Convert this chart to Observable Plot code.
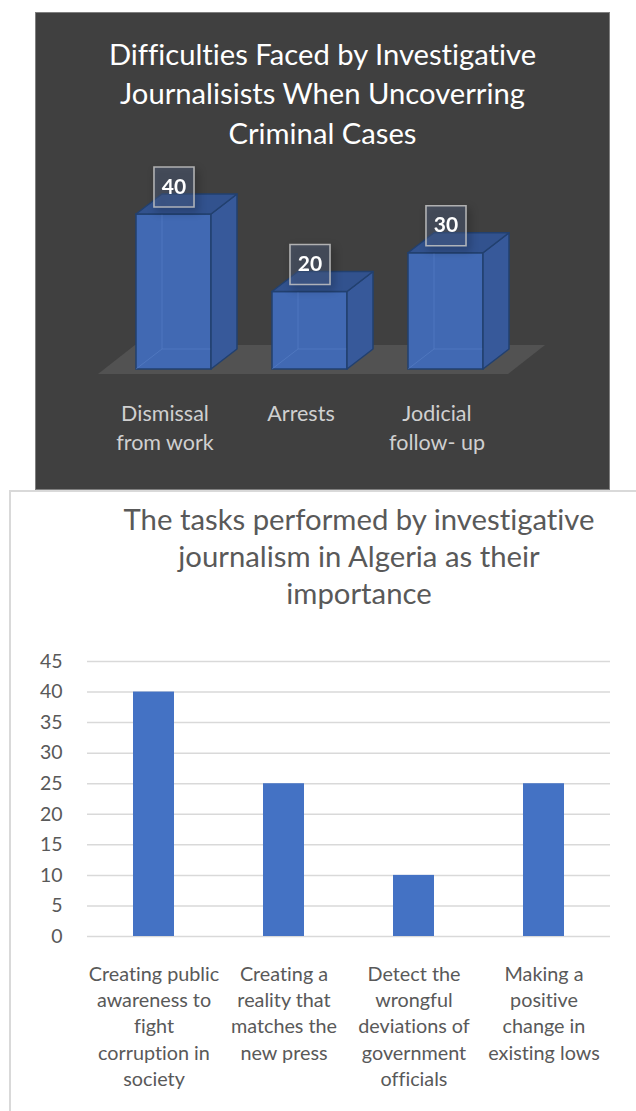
<!DOCTYPE html>
<html>
<head>
<meta charset="utf-8">
<script src="https://cdn.jsdelivr.net/npm/d3@7"></script>
<script src="https://cdn.jsdelivr.net/npm/@observablehq/plot@0.6"></script>
<style>
html,body{margin:0;padding:0;background:#fff;}
body{width:636px;height:1111px;position:relative;overflow:hidden;font-family:Lato,"Noto Sans",sans-serif;font-variant-ligatures:none;}
svg text{font-variant-ligatures:none;}
#panelTop{position:absolute;left:35px;top:12px;width:575px;height:478px;background:#404040;border:1px solid #7f7f7f;box-sizing:border-box;}
#panelBottom{position:absolute;left:9px;top:489.5px;width:720px;height:700px;background:#fff;border:2px solid #d9d9d9;box-sizing:border-box;}
.title{position:absolute;text-align:center;white-space:nowrap;}
#titleTop{left:35px;width:575px;top:33.5px;font-size:29.2px;line-height:39.5px;color:#fff;}
#titleBottom{left:9px;width:700px;top:499.5px;font-size:29.3px;line-height:37px;color:#595959;}
#chartTop{position:absolute;left:0;top:0;width:636px;}
#chartBottom{position:absolute;left:0;top:600px;width:636px;}
</style>
</head>
<body>
<div id="panelTop"></div>
<div id="panelBottom"></div>
<div id="titleTop" class="title"></div>
<div id="titleBottom" class="title"></div>
<div id="chartTop"></div>
<div id="chartBottom"></div>
<script>
// ---------- data ----------
const titleTopLines = ["Difficulties Faced by Investigative", "Journalisists When Uncoverring", "Criminal Cases"];
const difficulties = ["Dismissal\nfrom work", "Arrests", "Jodicial\nfollow- up"];
const difficultyValues = [40, 20, 30];

const titleBottomLines = ["The tasks performed by investigative", "journalism in Algeria as their", "importance"];
const tasks = [
  "Creating public\nawareness to\nfight\ncorruption in\nsociety",
  "Creating a\nreality that\nmatches the\nnew press",
  "Detect the\nwrongful\ndeviations of\ngovernment\nofficials",
  "Making a\npositive\nchange in\nexisting lows"
];
const taskValues = [40, 25, 10, 25];
const taskTicks = [0, 5, 10, 15, 20, 25, 30, 35, 40, 45];

// ---------- titles ----------
document.getElementById("titleTop").innerHTML = titleTopLines.join("<br>");
document.getElementById("titleBottom").innerHTML = titleBottomLines.join("<br>");

// ---------- top chart (3D columns) ----------
const topData = difficulties.map((c, i) => ({category: c, value: difficultyValues[i]}));
const DX = 26, DY = 20;

function floorMark(index, scales, values, dim) {
  const y0 = scales.y(0);
  const a = dim.marginLeft, b = dim.width - dim.marginRight;
  return d3.create("svg:path")
    .attr("d", `M${a - 37},${y0 + 5}L${b + 25},${y0 + 5}L${b + 62},${y0 - 24}L${a},${y0 - 24}Z`)
    .attr("fill", "#525252")
    .node();
}

function cuboidMark(index, scales) {
  const x = scales.x, y = scales.y;
  const bw = x.bandwidth();
  const y0 = y(0);
  const g = d3.create("svg:g");
  for (const d of topData) {
    const x1 = x(d.category), x2 = x1 + bw, yt = y(d.value);
    g.append("path")
      .attr("d", `M${x1},${y0}L${x1 + DX},${y0 - DY}L${x2 + DX},${y0 - DY}M${x1 + DX},${y0 - DY}L${x1 + DX},${yt - DY}`)
      .attr("fill", "none").attr("stroke", "#6088cc").attr("stroke-opacity", 0.45).attr("stroke-width", 1);
    g.append("path")
      .attr("d", `M${x2},${y0}L${x2 + DX},${y0 - DY}L${x2 + DX},${yt - DY}L${x2},${yt}Z`)
      .attr("fill", "#37599a").attr("stroke", "#22406f").attr("stroke-width", 1.5).attr("stroke-linejoin", "round");
    g.append("path")
      .attr("d", `M${x1},${yt}L${x2},${yt}L${x2 + DX},${yt - DY}L${x1 + DX},${yt - DY}Z`)
      .attr("fill", "#32528e").attr("stroke", "#22406f").attr("stroke-width", 1.5).attr("stroke-linejoin", "round");
  }
  return g.node();
}

const topChart = Plot.plot({
  width: 636,
  height: 490,
  marginTop: 214,
  marginBottom: 121,
  marginLeft: 135,
  marginRight: 153,
  style: {background: "transparent", fontFamily: "Lato, 'Noto Sans', sans-serif", overflow: "visible", maxWidth: "none"},
  x: {domain: difficulties, paddingInner: 0.45, paddingOuter: 0},
  y: {domain: [0, 40], axis: null},
  marks: [
    floorMark,
    Plot.barY(topData, {x: "category", y: "value", fill: "#4169b3", stroke: "#22406f", strokeWidth: 1.5, insetLeft: 0, insetRight: 0}),
    cuboidMark,
    Plot.dot(topData, {x: "category", y: "value", symbol: "square", r: 22.6, dy: -27.5,
      fill: "#5a6e96", fillOpacity: 0.35, stroke: "#c4c4c4", strokeOpacity: 0.85, strokeWidth: 1.6}),
    Plot.text(topData, {x: "category", y: "value", text: d => String(d.value), dy: -27.5,
      fill: "#ffffff", fontWeight: "bold", fontSize: 21}),
    Plot.axisX({tickSize: 0, tickPadding: 31, fontSize: 21.5, lineHeight: 1.35, fill: "#d0d0d0", dx: -9, label: null})
  ]
});
const dotG = topChart.querySelector('g[aria-label="dot"]');
if (dotG) dotG.style.filter = "drop-shadow(3px 4px 4px rgba(0,0,0,0.45))";
document.getElementById("chartTop").appendChild(topChart);

// ---------- bottom chart ----------
const taskData = tasks.map((t, i) => ({task: t, value: taskValues[i]}));

const bottomChart = Plot.plot({
  width: 636,
  height: 511,
  marginTop: 61,
  marginBottom: 175,
  marginLeft: 87,
  marginRight: 26,
  style: {background: "transparent", fontFamily: "Lato, 'Noto Sans', sans-serif", overflow: "visible", maxWidth: "none"},
  x: {domain: tasks, paddingInner: 0.686, paddingOuter: 0.343},
  y: {domain: [0, 45]},
  marks: [
    Plot.gridY(taskTicks, {stroke: "#d9d9d9", strokeOpacity: 1, strokeWidth: 1.5}),
    Plot.barY(taskData, {x: "task", y: "value", fill: "#4472c4"}),
    Plot.axisY(taskTicks, {tickSize: 0, tickPadding: 25, fontSize: 19.5, fill: "#595959", label: null}),
    Plot.axisX({tickSize: 0, tickPadding: 25.5, fontSize: 19.8, lineHeight: 1.33, fill: "#595959", label: null})
  ]
});
document.getElementById("chartBottom").appendChild(bottomChart);
</script>
</body>
</html>
